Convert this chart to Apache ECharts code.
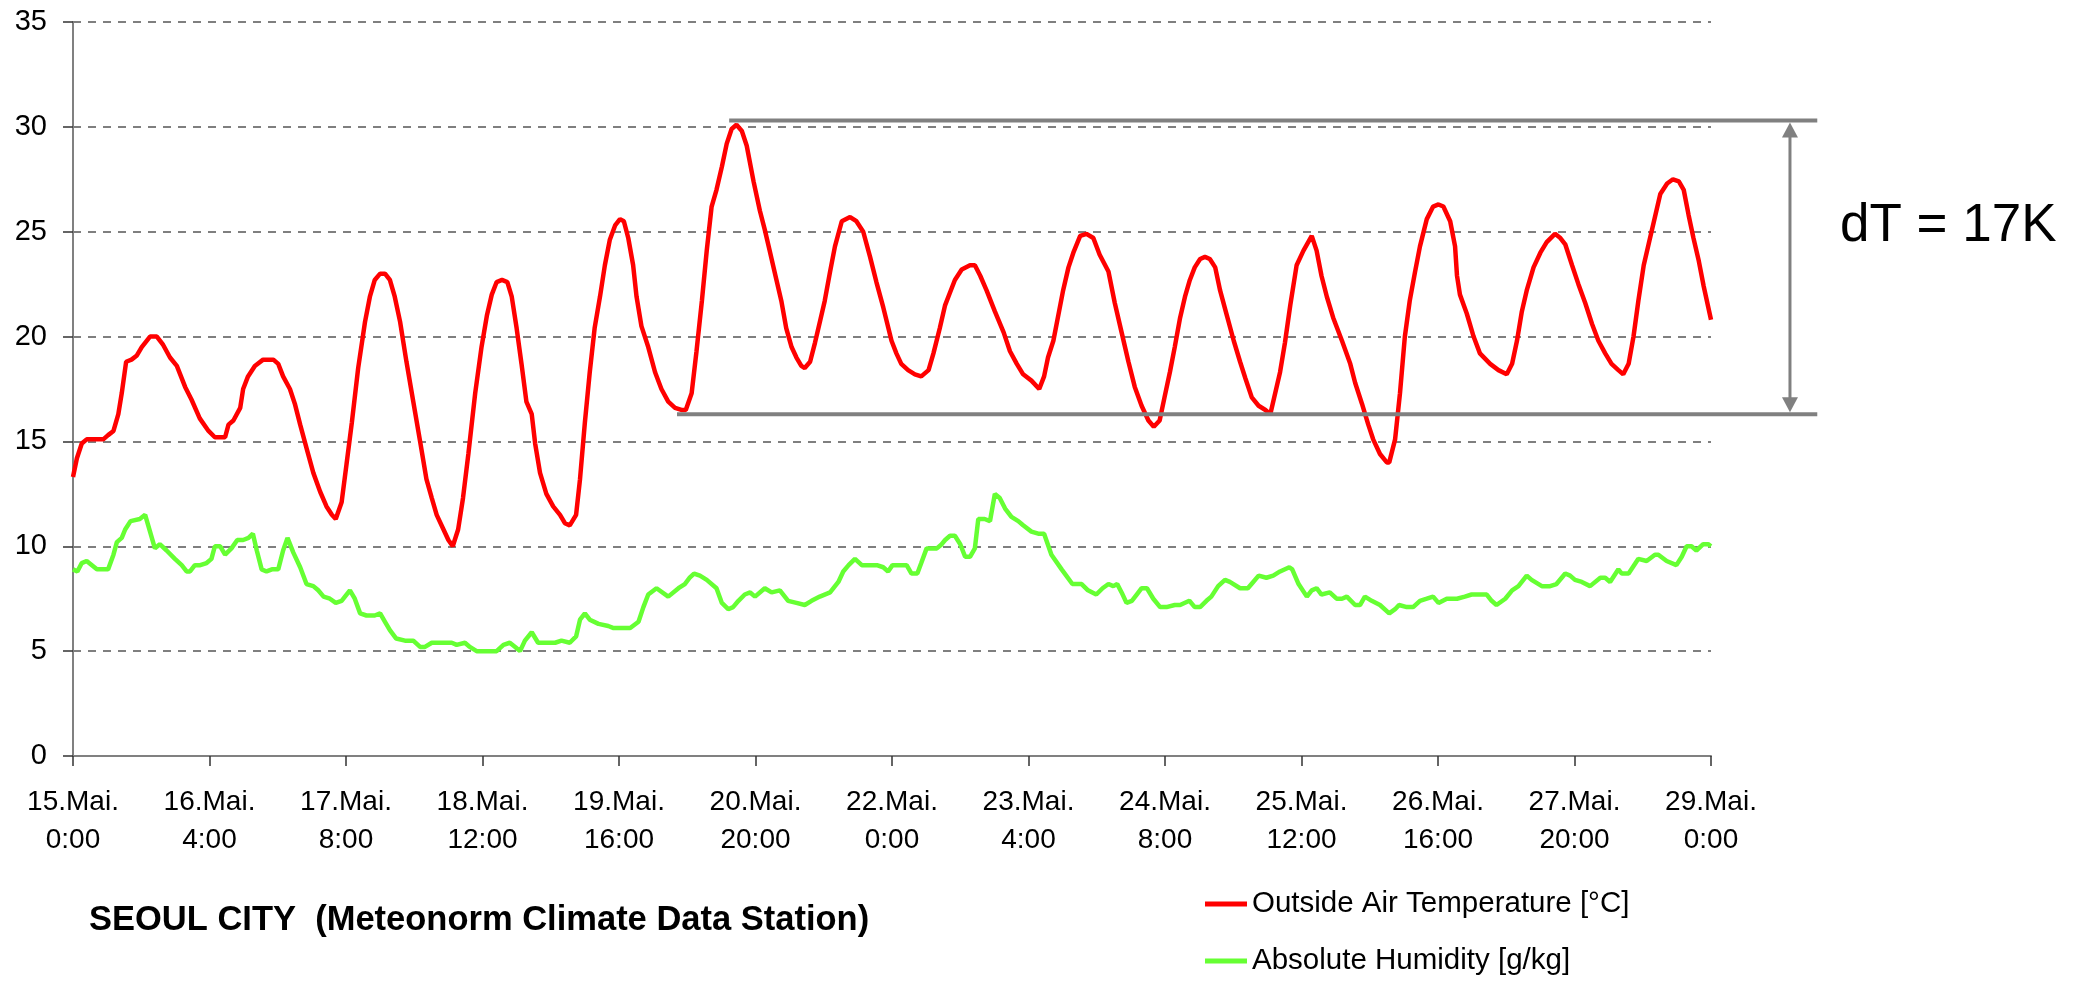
<!DOCTYPE html>
<html>
<head>
<meta charset="utf-8">
<title>Seoul City - Temperature / Humidity</title>
<script src="https://cdn.jsdelivr.net/npm/echarts@6/dist/echarts.min.js"></script>
<style>
html, body { margin: 0; padding: 0; background: #fff; }
#chart { width: 2078px; height: 985px; }
</style>
</head>
<body>
<div id="chart"></div>
<script>
// tick labels, one every 28 hours (x axis is hours since 15.Mai 0:00)
var tickLabels = ['15.Mai.\n0:00', '16.Mai.\n4:00', '17.Mai.\n8:00', '18.Mai.\n12:00', '19.Mai.\n16:00',
    '20.Mai.\n20:00', '22.Mai.\n0:00', '23.Mai.\n4:00', '24.Mai.\n8:00', '25.Mai.\n12:00',
    '26.Mai.\n16:00', '27.Mai.\n20:00', '29.Mai.\n0:00'];

// Outside Air Temperature [°C]
var tempHours = [0, 0.8, 1.8, 2.8, 6.2, 7.2, 8.3, 9.3, 10, 10.9, 12, 13.1, 14.1, 15.8, 17.2, 18.5, 19.9, 21.3, 23, 24.3,
    26, 27.8, 29.1, 30.2, 31.2, 31.9, 32.9, 34.3, 34.9, 35.9, 37.3, 39, 41.1, 42.1, 43.1, 44.5, 45.5, 46.6, 48, 49.3,
    50.7, 52, 53.1, 53.9, 55.1, 56.1, 57.2, 58.5, 59.9, 60.9, 61.9, 63, 64, 65, 66, 67.1, 68.4, 69.8, 71.2, 72.5,
    73.6, 74.6, 76, 77, 77.9, 79, 80, 81.1, 82.5, 83.8, 84.9, 85.9, 86.9, 88, 89.1, 90, 91, 92, 93, 94.1,
    94.8, 95.8, 97.1, 98.5, 99.9, 100.9, 101.9, 103.2, 104, 105, 106, 107, 108.1, 109.1, 110.1, 111.2, 112.2, 113, 113.9, 114.9,
    115.6, 116.6, 118, 119.4, 120.7, 122.1, 123.5, 124.8, 125.7, 126.9, 127.9, 129, 130, 131, 132, 133.1, 134.1, 135.1, 136.1, 137.2,
    138.2, 139.6, 140.9, 141.9, 142.9, 144.3, 145.3, 146.3, 147.4, 148.4, 149.4, 150.1, 151.2, 152.2, 153.2, 154.2, 155.3, 156.3, 157.7, 159.4,
    160.7, 162.1, 163.5, 164.8, 166.2, 167.9, 168.9, 169.9, 171.3, 172.7, 174, 175.5, 176.5, 177.8, 178.9, 179.9, 180.9, 182.3, 184, 185,
    186.1, 187.4, 189.1, 190.9, 192.2, 193.6, 194.9, 196.6, 198.2, 199.2, 200, 201.1, 202.1, 203.1, 204.2, 205.2, 206.6, 207.9, 209.3, 210.6,
    212.4, 213.7, 215.1, 216.5, 217.8, 219.2, 220.6, 221.7, 222.9, 223.9, 225, 226, 227.1, 228.1, 229.1, 230.1, 231.2, 232.2, 233.2, 234.3,
    235.3, 236.7, 238.1, 239.4, 240.5, 241.8, 243.2, 244.6, 245.6, 246.6, 247.6, 248.6, 249.7, 251, 252.4, 254.1, 255.1, 256.1, 257.2, 258.5,
    260.3, 262, 263, 264.4, 265.7, 266.7, 268.1, 269.5, 270, 271.2, 272.2, 273.2, 274.2, 275.3, 276.3, 277.7, 279, 280.1, 281.1, 282.5,
    283.5, 283.9, 284.5, 285.9, 287.3, 288.6, 290.7, 292.4, 294.1, 295.2, 296.2, 297.2, 298.2, 299.6, 301, 302.3, 304, 305.1, 306.1, 307.5,
    308.8, 310.2, 311.6, 312.9, 314.3, 315.6, 317, 318, 319.1, 320.1, 321.1, 322.2, 323.2, 324.3, 325.6, 327, 328.2, 329.4, 330.4, 331.4,
    332.4, 333.5, 334.5, 336];
var tempValues = [13.3, 14.2, 14.9, 15.1, 15.1, 15.3, 15.5, 16.3, 17.3, 18.8, 18.9, 19.1, 19.5, 20.0, 20.0, 19.6, 19.0, 18.6, 17.6, 17.0,
    16.1, 15.5, 15.2, 15.2, 15.2, 15.8, 16.0, 16.6, 17.5, 18.1, 18.6, 18.9, 18.9, 18.7, 18.1, 17.5, 16.8, 15.8, 14.6, 13.5,
    12.6, 11.9, 11.5, 11.3, 12.1, 13.9, 15.9, 18.5, 20.7, 21.9, 22.7, 23.0, 23.0, 22.7, 21.9, 20.7, 18.8, 16.9, 15.0, 13.2,
    12.3, 11.5, 10.8, 10.3, 10.0, 10.8, 12.3, 14.4, 17.3, 19.5, 21.0, 22.0, 22.6, 22.7, 22.6, 21.9, 20.4, 18.7, 16.9, 16.3,
    14.9, 13.5, 12.5, 11.9, 11.5, 11.1, 11.0, 11.5, 13.2, 15.9, 18.3, 20.4, 21.9, 23.4, 24.6, 25.3, 25.6, 25.5, 24.7, 23.4,
    21.9, 20.5, 19.5, 18.3, 17.5, 16.9, 16.6, 16.5, 16.5, 17.3, 19.3, 21.7, 24.1, 26.2, 27.0, 28.1, 29.2, 29.9, 30.1, 29.8,
    29.1, 27.4, 26.0, 25.1, 24.1, 22.7, 21.7, 20.4, 19.5, 19.0, 18.6, 18.5, 18.8, 19.7, 20.7, 21.7, 23.1, 24.3, 25.5, 25.7,
    25.5, 25.0, 23.8, 22.6, 21.4, 19.8, 19.2, 18.7, 18.4, 18.2, 18.1, 18.4, 19.2, 20.4, 21.5, 22.1, 22.7, 23.2, 23.4, 23.4,
    22.9, 22.2, 21.2, 20.2, 19.3, 18.7, 18.2, 17.9, 17.5, 18.1, 19.0, 19.8, 21.0, 22.2, 23.3, 24.0, 24.8, 24.9, 24.7, 23.9,
    23.1, 21.6, 20.2, 18.8, 17.6, 16.7, 16.0, 15.7, 16.0, 17.1, 18.3, 19.5, 20.9, 21.9, 22.7, 23.3, 23.7, 23.8, 23.7, 23.3,
    22.2, 21.0, 19.8, 18.8, 18.0, 17.1, 16.7, 16.5, 16.3, 17.3, 18.3, 19.7, 21.5, 23.4, 24.1, 24.8, 24.1, 22.9, 21.9, 20.9,
    19.8, 18.7, 17.8, 16.8, 15.8, 15.1, 14.4, 14.0, 14.0, 15.1, 17.3, 20.0, 21.7, 23.1, 24.3, 25.6, 26.2, 26.3, 26.2, 25.5,
    24.3, 22.9, 22.0, 21.1, 20.0, 19.2, 18.7, 18.4, 18.2, 18.7, 19.8, 21.2, 22.2, 23.3, 24.0, 24.5, 24.9, 24.7, 24.4, 23.4,
    22.5, 21.6, 20.6, 19.8, 19.2, 18.7, 18.4, 18.2, 18.7, 20.0, 21.7, 23.4, 24.4, 25.5, 26.8, 27.3, 27.5, 27.4, 27.0, 25.8,
    24.7, 23.6, 22.4, 20.8];

// Absolute Humidity [g/kg]
var humHours = [0, 0.9, 1.8, 2.8, 4.9, 7.2, 8.3, 9, 10, 10.7, 11.8, 13.7, 14.8, 15.8, 16.8, 17.8, 19.2, 20.9, 22.3, 23.3,
    24, 25, 26.1, 27.4, 28.4, 29.1, 30.2, 31.2, 32.5, 33.7, 34.9, 36, 36.9, 37.7, 38.7, 39.7, 40.8, 42.1, 43.1, 44,
    45.2, 46.6, 47.9, 49.3, 50.3, 51.4, 52.7, 53.9, 55.1, 56.8, 57.8, 58.9, 60.2, 61.9, 63, 64, 65, 66.3, 68.1, 69.8,
    71.2, 72.2, 73.6, 75.6, 77, 77.7, 78.7, 80.4, 81.4, 82.8, 86.9, 88.3, 89.6, 90.7, 91.7, 92.7, 94.1, 95.4, 96.8, 98.9,
    100.2, 101.9, 103.2, 104, 105, 106, 107.8, 109.8, 110.9, 112.2, 114.3, 116, 117, 118, 119.7, 122.1, 124.2, 125.5, 126.5, 127.4,
    128.6, 130, 132, 133.1, 134.4, 135.4, 136.5, 137.8, 138.9, 139.9, 141.9, 143.3, 145, 146.7, 148.4, 150.1, 151.5, 153.2, 155.3, 157,
    158, 159.1, 160.4, 161.8, 163.5, 164.9, 166.2, 167.2, 168.1, 171, 172, 173.2, 174, 175.1, 177.2, 178.2, 178.9, 179.9, 180.9, 182,
    183, 184, 185, 185.7, 187, 188.1, 189.1, 190.1, 191.2, 192.5, 193.9, 194.9, 196.6, 198, 199.2, 200.7, 202.8, 205, 206.9, 208.2,
    209.9, 211.2, 212.4, 213.4, 214.2, 215.1, 216.1, 217.2, 218.2, 219.2, 220.3, 221.6, 223, 224.3, 226, 227.1, 229, 230.1, 231.2, 232.5,
    233.5, 234.9, 236.3, 237.3, 239.4, 241, 242.1, 243.2, 244.8, 246.2, 247.6, 249.5, 250.1, 251.4, 253.1, 254.1, 255.1, 256.1, 257.8, 259.2,
    260.3, 261.3, 263, 264, 265, 266.4, 268.1, 270, 271.2, 272, 273.6, 274.9, 276.3, 277.7, 279, 280.1, 281.8, 283.9, 285.5, 286.9,
    290, 291, 292, 293.8, 295.2, 296.5, 298.2, 299.2, 301.3, 303, 304.3, 306.1, 307.1, 308.1, 309.5, 311.2, 313.3, 314.3, 315.3, 317,
    317.7, 319.1, 321.1, 322.8, 324.5, 325.2, 326.9, 328.9, 330, 331, 332, 333, 334.4, 335.4, 336];
var humValues = [8.9, 8.8, 9.2, 9.3, 8.9, 8.9, 9.6, 10.2, 10.4, 10.8, 11.2, 11.3, 11.5, 10.7, 9.9, 10.1, 9.8, 9.4, 9.1, 8.8,
    8.8, 9.1, 9.1, 9.2, 9.4, 10.0, 10.0, 9.6, 9.9, 10.3, 10.3, 10.4, 10.6, 9.8, 8.9, 8.8, 8.9, 8.9, 9.8, 10.4,
    9.7, 9.0, 8.2, 8.1, 7.9, 7.6, 7.5, 7.3, 7.4, 7.9, 7.5, 6.8, 6.7, 6.7, 6.8, 6.4, 6.0, 5.6, 5.5, 5.5,
    5.2, 5.2, 5.4, 5.4, 5.4, 5.4, 5.3, 5.4, 5.2, 5.0, 5.0, 5.3, 5.4, 5.2, 5.0, 5.5, 5.9, 5.4, 5.4, 5.4,
    5.5, 5.4, 5.7, 6.5, 6.8, 6.5, 6.3, 6.2, 6.1, 6.1, 6.1, 6.4, 7.1, 7.7, 8.0, 7.6, 8.0, 8.2, 8.5, 8.7,
    8.6, 8.4, 8.0, 7.3, 7.0, 7.1, 7.4, 7.7, 7.8, 7.6, 8.0, 7.8, 7.9, 7.4, 7.3, 7.2, 7.4, 7.6, 7.8, 8.3,
    8.8, 9.1, 9.4, 9.1, 9.1, 9.1, 9.0, 8.8, 9.1, 9.1, 8.7, 8.7, 9.2, 9.9, 9.9, 10.1, 10.3, 10.5, 10.5, 10.1,
    9.5, 9.5, 9.9, 11.3, 11.3, 11.2, 12.5, 12.3, 11.8, 11.4, 11.2, 11.0, 10.7, 10.6, 10.6, 9.6, 8.9, 8.2, 8.2, 7.9,
    7.7, 8.0, 8.2, 8.1, 8.2, 7.8, 7.3, 7.4, 7.7, 8.0, 8.0, 7.5, 7.1, 7.1, 7.2, 7.2, 7.4, 7.1, 7.1, 7.4,
    7.6, 8.1, 8.4, 8.3, 8.0, 8.0, 8.3, 8.6, 8.5, 8.6, 8.8, 9.0, 8.9, 8.2, 7.6, 7.9, 8.0, 7.7, 7.8, 7.5,
    7.5, 7.6, 7.2, 7.2, 7.6, 7.4, 7.2, 6.8, 7.0, 7.2, 7.1, 7.1, 7.4, 7.5, 7.6, 7.3, 7.5, 7.5, 7.6, 7.7,
    7.7, 7.4, 7.2, 7.5, 7.9, 8.1, 8.6, 8.4, 8.1, 8.1, 8.2, 8.7, 8.6, 8.4, 8.3, 8.1, 8.5, 8.5, 8.3, 8.9,
    8.7, 8.7, 9.4, 9.3, 9.6, 9.6, 9.3, 9.1, 9.5, 10.0, 10.0, 9.8, 10.1, 10.1, 10.0];

// dT band drawn over the chart: [from hour, to hour, temperature]
var bandTop = [134.6, 357.8, 30.3];
var bandBottom = [123.9, 357.8, 16.3];
var arrowHour = 352.2;

var FONT = "'Liberation Sans', Arial, sans-serif";

function pairs(xs, ys) {
    return xs.map(function (x, i) { return [x, ys[i]]; });
}

var chart = echarts.init(document.getElementById('chart'));

var option = {
    animation: false,
    backgroundColor: '#ffffff',
    textStyle: { fontFamily: FONT, color: '#000' },
    grid: { left: 73, top: 22, width: 1638, height: 734, containLabel: false },
    legend: {
        orient: 'vertical',
        left: 1200,
        top: 884,
        itemWidth: 42,
        itemHeight: 5,
        itemGap: 27,
        icon: 'rect',
        textStyle: { fontFamily: FONT, fontSize: 29.5, color: '#000', lineHeight: 30 },
        data: ['Outside Air Temperature [°C]', 'Absolute Humidity [g/kg]']
    },
    xAxis: {
        type: 'value',
        min: 0,
        max: 336,
        interval: 28,
        axisLine: { lineStyle: { color: '#808080', width: 2 } },
        axisTick: { show: true, length: 10, lineStyle: { color: '#333', width: 1.5 } },
        axisLabel: {
            margin: 27,
            fontFamily: FONT,
            fontSize: 28,
            lineHeight: 38,
            color: '#000',
            formatter: function (v) { return tickLabels[Math.round(v / 28)] || ''; }
        },
        splitLine: { show: false }
    },
    yAxis: {
        type: 'value',
        min: 0,
        max: 35,
        interval: 5,
        axisLine: { show: true, lineStyle: { color: '#808080', width: 2 } },
        axisTick: { show: true, length: 10, lineStyle: { color: '#333', width: 1.5 } },
        axisLabel: { margin: 26, fontFamily: FONT, fontSize: 29, color: '#000' },
        splitLine: { show: true, lineStyle: { color: '#555', width: 1.5, type: [8, 7] } }
    },
    series: [{
        name: 'Outside Air Temperature [°C]',
        type: 'line',
        showSymbol: false,
        symbol: 'none',
        color: '#ff0000',
        lineStyle: { color: '#ff0000', width: 4.5 },
        data: pairs(tempHours, tempValues)
    }, {
        name: 'Absolute Humidity [g/kg]',
        type: 'line',
        showSymbol: false,
        symbol: 'none',
        color: '#66ff33',
        lineStyle: { color: '#66ff33', width: 4.5 },
        data: pairs(humHours, humValues)
    }]
};
chart.setOption(option);

/* annotation: dT band, arrow, texts */
function px(h, v) { return chart.convertToPixel({ gridIndex: 0 }, [h, v]); }
var t0 = px(bandTop[0], bandTop[2]), t1 = px(bandTop[1], bandTop[2]);
var b0 = px(bandBottom[0], bandBottom[2]), b1 = px(bandBottom[1], bandBottom[2]);
var aTop = px(arrowHour, bandTop[2]), aBot = px(arrowHour, bandBottom[2]);
var gray = '#808080';

chart.setOption({
    graphic: [
        { type: 'line', z: 50, shape: { x1: t0[0], y1: t0[1], x2: t1[0], y2: t1[1] }, style: { stroke: gray, lineWidth: 4 } },
        { type: 'line', z: 50, shape: { x1: b0[0], y1: b0[1], x2: b1[0], y2: b1[1] }, style: { stroke: gray, lineWidth: 4 } },
        { type: 'line', z: 50, shape: { x1: aTop[0], y1: aTop[1] + 12, x2: aBot[0], y2: aBot[1] - 12 }, style: { stroke: gray, lineWidth: 3 } },
        { type: 'polygon', z: 50, shape: { points: [[aTop[0], aTop[1] + 2], [aTop[0] - 8, aTop[1] + 17], [aTop[0] + 8, aTop[1] + 17]] }, style: { fill: gray } },
        { type: 'polygon', z: 50, shape: { points: [[aBot[0], aBot[1] - 2], [aBot[0] - 8, aBot[1] - 17], [aBot[0] + 8, aBot[1] - 17]] }, style: { fill: gray } },
        { type: 'text', z: 50, left: 1840, top: 200, style: { text: 'dT = 17K', font: '53px ' + FONT, fill: '#000' } },
        { type: 'text', z: 50, left: 89, top: 903, style: { text: 'SEOUL CITY  (Meteonorm Climate Data Station)', font: 'bold 34.5px ' + FONT, fill: '#000' } }
    ]
});

window.addEventListener('resize', function () {
    chart.resize();
});
</script>
</body>
</html>
